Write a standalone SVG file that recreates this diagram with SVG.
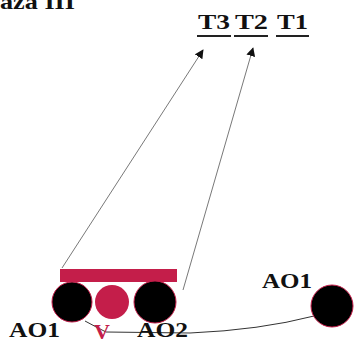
<svg xmlns="http://www.w3.org/2000/svg" width="355" height="343" viewBox="0 0 355 343">
<style>
.lbl{font-family:"Liberation Serif","Times New Roman",serif;font-weight:bold;fill:#111}
.red{fill:#c41e4a}
.blk{fill:#000;stroke:#c41e4a;stroke-width:1}
.ul{stroke:#222;stroke-width:2}
.arr{fill:none;stroke:#555;stroke-width:0.8;marker-end:url(#ah)}
</style>
<defs>
<marker id="ah" viewBox="0 0 10 10" refX="9" refY="5" markerWidth="9" markerHeight="9" markerUnits="userSpaceOnUse" orient="auto">
<path d="M0,0 L10,5 L0,10 z" fill="#111"/>
</marker>
</defs>
<rect width="355" height="343" fill="#fff"/>
<text class="lbl" x="0" y="9" font-size="22" textLength="75" lengthAdjust="spacingAndGlyphs">aza III</text>
<g id="T3"><text class="lbl" x="198" y="29" font-size="22" textLength="32" lengthAdjust="spacingAndGlyphs">T3</text><line class="ul" x1="197" y1="36" x2="231" y2="36"/></g>
<g id="T2"><text class="lbl" x="235" y="29" font-size="22" textLength="33" lengthAdjust="spacingAndGlyphs">T2</text><line class="ul" x1="234" y1="36" x2="268" y2="36"/></g>
<g id="T1"><text class="lbl" x="277" y="29" font-size="22" textLength="31" lengthAdjust="spacingAndGlyphs">T1</text><line class="ul" x1="276" y1="36" x2="309" y2="36"/></g>
<g id="connectors">
<path class="arr" d="M62,268 L203,50"/>
<path class="arr" d="M183,290 L253,48"/>
<path d="M85,321 Q96,327 106,332 L190,333 Q260,330 314,316" fill="none" stroke="#333" stroke-width="1"/>
</g>
<g id="bar"><rect class="red" x="60" y="269" width="117" height="13"/></g>
<g id="AO1-left"><circle class="blk" cx="72" cy="302" r="20"/><text class="lbl" x="9" y="337" font-size="21" textLength="51" lengthAdjust="spacingAndGlyphs">AO1</text></g>
<g id="V"><circle class="red" cx="112" cy="302" r="17"/><text class="lbl" x="94" y="339" font-size="22" style="fill:#c41e4a">V</text></g>
<g id="AO2"><circle class="blk" cx="155" cy="302" r="21"/><text class="lbl" x="137" y="337" font-size="21" textLength="51" lengthAdjust="spacingAndGlyphs">AO2</text></g>
<g id="AO1-right"><circle class="blk" cx="332" cy="306" r="21"/><text class="lbl" x="262" y="288" font-size="21" textLength="50" lengthAdjust="spacingAndGlyphs">AO1</text></g>
</svg>
